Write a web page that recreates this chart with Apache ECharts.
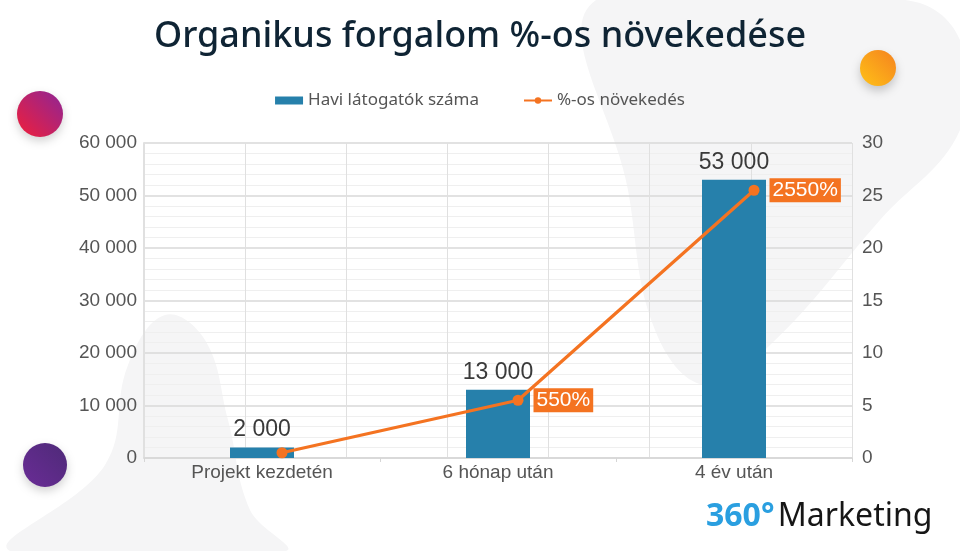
<!DOCTYPE html>
<html>
<head>
<meta charset="utf-8">
<script src="https://cdn.jsdelivr.net/npm/echarts@6/dist/echarts.min.js"></script>
<style>
  html, body { margin: 0; padding: 0; background: #fff; }
  #chart { width: 960px; height: 551px; }
</style>
</head>
<body>
<div id="chart"></div>
<script>
// data
var categories = ['Projekt kezdetén', '6 hónap után', '4 év után'];
var visitors = [2000, 13000, 53000];
var growth = [0.5, 5.5, 25.5];          // right axis, x100 = percent
var showGrowthLabel = [false, true, true];

function spaced(v) {
  return String(v).replace(/\B(?=(\d{3})+(?!\d))/g, ' ');
}

function grad(c1, c2) {
  return { type: 'linear', x: 1, y: 0, x2: 0, y2: 1, colorStops: [{ offset: 0, color: c1 }, { offset: 1, color: c2 }] };
}

var axisFont = 'Liberation Sans';

chart = {
  backgroundColor: '#fff',
  animation: false,
  title: {
    text: 'Organikus forgalom %-os növekedése',
    left: 'center',
    top: 14,
    textStyle: { fontFamily: 'Noto Sans', fontSize: 36, fontWeight: 500, color: '#0f2434' }
  },
  legend: {
    top: 87,
    left: 'center',
    itemGap: 44,
    itemWidth: 28,
    itemHeight: 8,
    textStyle: { fontFamily: 'Noto Sans', fontSize: 17, color: '#555' },
    data: [{ name: 'Havi látogatók száma', icon: 'rect' }, '%-os növekedés']
  },
  graphic: [
    { type: 'polygon', z: -10, silent: true,
      shape: { smooth: 0.4, points: [[596, 0], [628, 190], [655, 330], [705, 385], [770, 345], [880, 220], [960, 130], [960, 40], [905, 0]] },
      style: { fill: '#f5f5f6' } },
    { type: 'polygon', z: -10, silent: true,
      shape: { smooth: 0.4, points: [[10, 551], [105, 465], [128, 365], [165, 315], [205, 340], [228, 420], [250, 510], [285, 551]] },
      style: { fill: '#f5f5f6' } },
    { type: 'circle', shape: { cx: 40, cy: 114, r: 23 },
      style: { fill: grad('#8e2596', '#f01f3a'), shadowBlur: 10, shadowOffsetY: 4, shadowColor: 'rgba(0,0,0,0.18)' } },
    { type: 'circle', shape: { cx: 45, cy: 465, r: 22 },
      style: { fill: grad('#4e2a78', '#6a2c96'), shadowBlur: 10, shadowOffsetY: 4, shadowColor: 'rgba(0,0,0,0.18)' } },
    { type: 'circle', shape: { cx: 878, cy: 68, r: 18 },
      style: { fill: grad('#f5821f', '#ffc117'), shadowBlur: 10, shadowOffsetY: 5, shadowColor: 'rgba(0,0,0,0.2)' } },
    { type: 'text', left: 706, top: 501,
      style: { text: '{a|360°} {b|Marketing}',
               rich: {
                 a: { fontFamily: 'Noto Sans', fontSize: 32, fontWeight: 'bold', fill: '#2a9fe0' },
                 b: { fontFamily: 'Noto Sans', fontSize: 32, fill: '#161616' }
               } } }
  ],
  // grid 1 holds the line, drawn a little to the right of the bars as in the source
  grid: [
    { left: 144, right: 108, top: 143, bottom: 93 },
    { left: 164, right: 88, top: 143, bottom: 93 }
  ],
  xAxis: [
    {
      type: 'category',
      gridIndex: 0,
      data: categories,
      position: 'bottom',
      axisLine: { lineStyle: { color: '#d6d6d6', width: 1.5 } },
      axisTick: { show: true, length: 4, lineStyle: { color: '#d6d6d6' } },
      axisLabel: { fontFamily: axisFont, fontSize: 19, color: '#555', margin: 5 }
    },
    {
      type: 'value',
      gridIndex: 0,
      min: 0, max: 7, interval: 1,
      position: 'top',
      axisLine: { show: false },
      axisTick: { show: false },
      axisLabel: { show: false },
      splitLine: { show: true, lineStyle: { color: '#e0e0e0' } }
    },
    {
      type: 'category',
      gridIndex: 1,
      data: categories,
      show: false
    }
  ],
  yAxis: [
    {
      type: 'value',
      gridIndex: 0,
      min: 0, max: 60000, interval: 10000,
      axisLine: { show: true, lineStyle: { color: '#e0e0e0', width: 2 } },
      axisTick: { show: false },
      axisLabel: { fontFamily: axisFont, fontSize: 19, color: '#555', margin: 7, formatter: spaced },
      splitLine: { lineStyle: { color: '#d9d9d9', width: 1.5 } },
      minorTick: { show: false, splitNumber: 5 },
      minorSplitLine: { show: true, lineStyle: { color: '#efefef' } }
    },
    {
      type: 'value',
      gridIndex: 0,
      min: 0, max: 30, interval: 5,
      axisLine: { show: false },
      axisTick: { show: false },
      axisLabel: { fontFamily: axisFont, fontSize: 19, color: '#555', margin: 10 },
      splitLine: { show: false }
    },
    {
      type: 'value',
      gridIndex: 1,
      min: 0, max: 30, interval: 5,
      show: false,
      splitLine: { show: false }
    }
  ],
  series: [
    {
      name: 'Havi látogatók száma',
      type: 'bar',
      xAxisIndex: 0,
      yAxisIndex: 0,
      barWidth: 64,
      itemStyle: { color: '#2680ab' },
      label: {
        show: true,
        position: 'top',
        distance: 6,
        fontFamily: axisFont,
        fontSize: 23,
        color: '#3a3a3a',
        formatter: function (p) { return spaced(p.value); }
      },
      data: visitors
    },
    {
      name: '%-os növekedés',
      type: 'line',
      xAxisIndex: 2,
      yAxisIndex: 2,
      symbol: 'circle',
      symbolSize: 11,
      lineStyle: { color: '#f47321', width: 3.2 },
      itemStyle: { color: '#f47321' },
      label: {
        position: 'right',
        distance: 10,
        fontFamily: axisFont,
        fontSize: 21,
        color: '#fff',
        backgroundColor: '#f47321',
        padding: [2, 3, 1, 3],
        formatter: function (p) { return Math.round(p.value * 100) + '%'; }
      },
      data: growth.map(function (v, i) { return { value: v, label: { show: showGrowthLabel[i] } }; })
    }
  ]
};
echarts.init(document.getElementById('chart')).setOption(chart);
</script>
</body>
</html>
